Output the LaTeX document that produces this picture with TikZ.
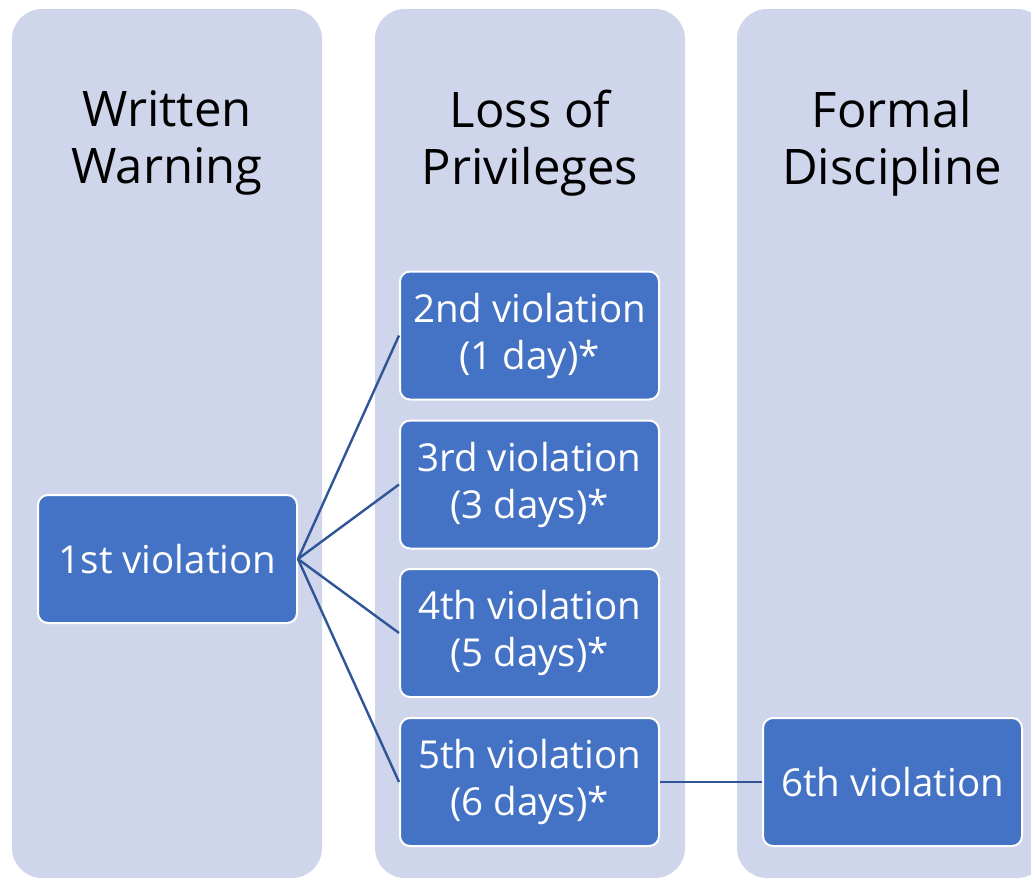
\documentclass[tikz,border=0pt]{standalone}
\usepackage{fontspec}
\setmainfont{Open Sans}
\usepackage{tikz}
\definecolor{lane}{HTML}{CFD5EA}
\definecolor{boxblue}{HTML}{4472C4}
\definecolor{linkblue}{HTML}{2F5597}
\tikzset{
    lanebox/.style={fill=lane, rounded corners=30pt},
    lanetitle/.style={align=center, inner sep=0pt, anchor=north, font=\fontsize{49}{57}\selectfont},
    vbox/.style={draw=white, line width=2pt, fill=boxblue, rounded corners=10pt,
        minimum width=259pt, minimum height=128pt, inner sep=0pt,
        text=white, align=center, font=\fontsize{38.5}{47}\selectfont},
    link/.style={draw=linkblue, line width=2.4pt}
}
\begin{document}
\begin{tikzpicture}[x=1pt,y=1pt]
    \useasboundingbox (0,0) rectangle (1031,-879);
    \clip (0,0) rectangle (1031,-879);
    \foreach \x in {12,375,737} {
        \fill[lanebox] (\x,-9) rectangle (\x+310,-878);
    }
    \node[lanetitle] (title1) at (167,-90) {Written\\Warning};
    \node[lanetitle] (title2) at (530,-90) {Loss of\\Privileges};
    \node[lanetitle] (title3) at (892,-90) {Formal\\Discipline};

    \node[vbox] (v1) at (167.5,-559) {1st violation};
    \node[vbox] (v2) at (529.5,-335.5) {2nd violation\\(1 day)*};
    \node[vbox] (v3) at (529.5,-484.5) {3rd violation\\(3 days)*};
    \node[vbox] (v4) at (529.5,-633) {4th violation\\(5 days)*};
    \node[vbox] (v5) at (529.5,-782) {5th violation\\(6 days)*};
    \node[vbox] (v6) at (892.5,-782) {6th violation};

    \foreach \i in {2,3,4,5} {
        \draw[link] (v1.east) -- (v\i.west);
    }
    \draw[link] (v5.east) -- (v6.west);
\end{tikzpicture}
\end{document}
